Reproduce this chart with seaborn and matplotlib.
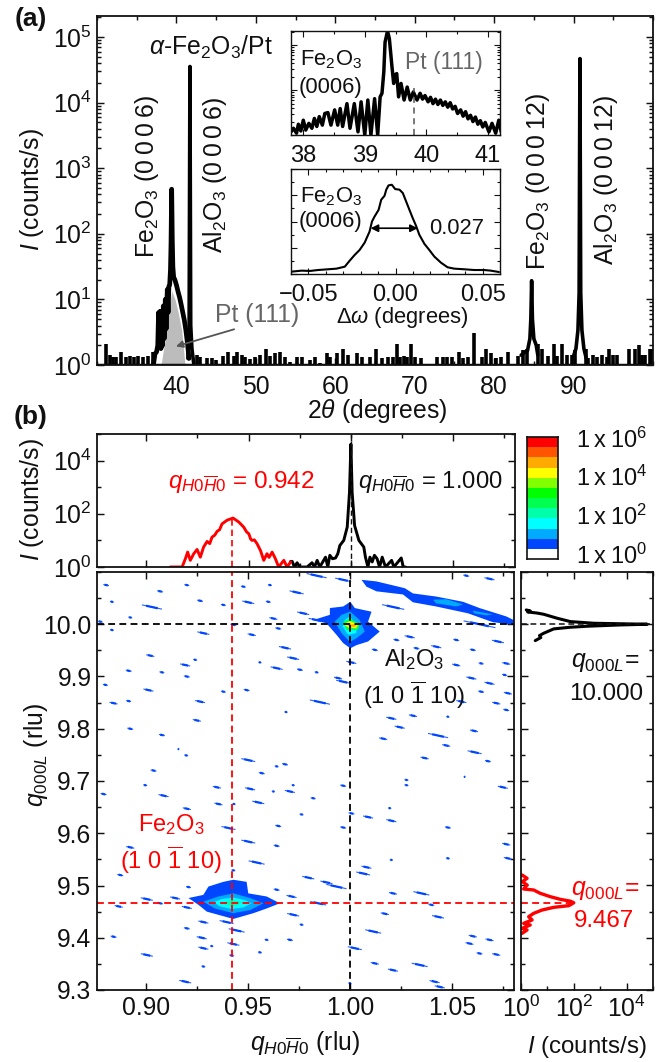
import numpy as np
import matplotlib
matplotlib.use("Agg")
import matplotlib.pyplot as plt
from matplotlib.colors import ListedColormap
from matplotlib.ticker import MultipleLocator, LogLocator, NullFormatter
import seaborn as sns

# (a) 2theta scan: noise spikes as (position, log10 height), peaks as traced curves
spike_x = [31.13, 31.64, 32.06, 32.39, 32.98, 33.65, 34.16, 34.66, 35.2, 35.83, 36.46, 37.09,
           42.55, 42.97, 43.81, 44.44, 44.98, 45.9, 46.53, 47.25, 47.58, 48.21, 48.63, 49.26,
           49.89, 50.52, 51.23, 51.78, 52.41, 53.04, 53.67, 54.3, 55.14, 55.76, 56.81, 57.44,
           58.07, 59.0, 59.33, 60.17, 60.93, 61.64, 62.69, 63.32, 64.37, 65.12,
           65.92, 66.59, 67.31, 67.73, 68.15, 68.69, 69.07, 69.53, 70.04, 70.79, 72.76, 73.6,
           74.02, 74.65, 75.57, 76.12, 76.75, 77.5, 78.43, 78.97, 79.56, 80.19, 80.86, 81.78,
           83.04, 83.67, 84.09, 85.56, 85.98, 86.82, 87.53, 87.95, 88.5, 89.21, 89.76, 90.18,
           91.52, 91.85, 92.48, 92.9, 93.53, 94.16, 94.5, 95.0, 95.5, 96.97, 97.73, 98.23,
           98.57, 98.99, 99.62, 99.91]
spike_log = [.32, .15, .12, .12, .2, .12, .13, .12, .14, .12, .14, .2,
             .15, .12, .1, .1, .07, .13, .2, .13, .2, .15, .12, .09,
             .12, .15, .25, .13, .18, .2, .12, .05, .12, .12, .07, .12,
             .03, .19, .12, .19, .25, .15, .18, .12, .12, .25,
             .1, .12, .12, .32, .12, .13, .12, .32, .12, .1, .12, .12,
             .12, .12, .2, .1, .12, .49, .12, .25, .19, .1, .12, .2,
             .14, .23, .25, .32, .24, .14, .32, .14, .32, .15, .15, .23,
             .25, .1, .15, .12, .15, .12, .24, .15, .15, .24, .24, .3,
             .15, .15, .24, .25]

fe_x = [37.1, 37.3, 37.5, 37.65, 37.75, 37.85, 37.95, 38.05, 38.15, 38.25, 38.35, 38.45, 38.6, 38.7, 38.85, 38.95,
        39.05, 39.15, 39.25, 39.32, 39.4, 39.48, 39.55, 39.65, 39.8, 40.0, 40.2, 40.4, 40.6, 40.8, 41.0, 41.2, 41.4, 41.58]
fe_log = [0, .17, .2, .3, .8, .3, .82, .25, .78, .3, .9, .4, 1.0, .55, 1.15, .8,
          1.2, 1.22, 1.45, 1.85, 2.68, 1.9, 1.5, 1.34, 1.3, 1.22, 1.12, 1.03, .92, .8, .68, .52, .32, .1]
al6_x = [41.45, 41.6, 41.7, 41.8, 41.95, 42.2]
al6_log = [.1, .6, 4.55, .6, .25, 0]
fe12_x = [83.4, 83.9, 84.2, 84.5, 84.62, 84.72, 84.82, 85.0, 85.3, 85.5]
fe12_log = [.15, .2, .22, .4, .7, 1.285, .7, .4, .3, .15]
al12_x = [89.9, 90.3, 90.55, 90.7, 90.8, 90.9, 91.05, 91.3, 91.6]
al12_log = [.1, .25, .53, 1.1, 4.67, 1.1, .53, .25, .1]
pt_x = [38.06, 38.56, 38.98, 39.4, 39.82, 40.24, 40.66, 41.08]
pt_log = [0, .38, .79, 1.13, 1.0, .79, .53, 0]
xticks_a = [40, 50, 60, 70, 80, 90]

# inset 1
ins1_x = [37.80, 37.84, 37.89, 37.92, 37.96, 38.0, 38.04, 38.09, 38.14, 38.18, 38.22, 38.26, 38.31, 38.35, 38.4,
          38.45, 38.51, 38.56, 38.6, 38.64, 38.71, 38.76, 38.83, 38.89, 38.94, 39.0, 39.05, 39.1, 39.16, 39.21,
          39.25, 39.28, 39.31, 39.33, 39.37, 39.4, 39.44, 39.47, 39.48, 39.52, 39.55, 39.59, 39.64, 39.69, 39.74,
          39.79, 39.85, 39.9, 39.94, 39.98, 40.03, 40.07, 40.11, 40.15, 40.19, 40.23, 40.27, 40.31, 40.35, 40.39, 40.43,
          40.47, 40.51, 40.56, 40.6, 40.64, 40.68, 40.72, 40.76, 40.8, 40.84, 40.88, 40.92, 40.96, 41.02, 41.07, 41.13,
          41.18, 41.22]
ins1_log = [.07, .15, .04, .24, .09, .33, .11, .26, .15, .37, .19, .41, .22, .48, .5,
            .22, .56, .22, .59, .19, .7, .15, .7, .07, .74, 0, .78, 0, .81, 0,
            .85, .93, 1.41, 2.07, 2.32, 2.15, 1.56, 1.15, 1.33, 1.37, .85, 1.15, .78, 1.07, .78,
            .96, .78, .93, .8, .88, .74, .84, .7, .8, .68, .78, .66, .74, .62, .72, .58,
            .64, .48, .56, .42, .52, .36, .44, .3, .4, .24, .32, .18, .28, .07, .26, .04,
            .33, .07]

# inset 2, rocking curve
rock_x = [-.060, -.0539, -.0491, -.0444, -.0387, -.0339, -.0291, -.0263, -.0234, -.0206, -.0177, -.0149, -.0135, -.012,
          -.0097, -.0082, -.0063, -.0053, -.004, -.0021, -.0002, .0023, .0042, .0061, .008, .0099, .0118, .0137, .0166,
          .0194, .0223, .0261, .0299, .0337, .0394, .0451, .0509, .0547, .0594]
rock_y = [.022, .032, .029, .038, .045, .051, .07, .127, .182, .229, .299, .404, .5, .548,
          .611, .707, .745, .803, .844, .85, .809, .803, .771, .691, .611, .532, .459, .373, .287,
          .229, .166, .108, .064, .051, .045, .038, .038, .032, .019]

# (b) top cut
red_x = [.9117, .9175, .9191, .9202, .9215, .9232, .9248, .9264, .9280, .9297, .9310, .9321, .9335, .9346, .9358, .9370, .9395, .9424,
         .9452, .9476, .9490, .9501, .9510, .9517, .9528, .9541, .9558, .9574, .9590, .9600, .9615, .9631, .9647, .9672, .9688, .9705]
red_log = [0, 0, .31, .56, .25, .5, .66, .37, .75, .96, .88, 1.12, 1.2, 1.34, 1.4, 1.62, 1.76, 1.84,
           1.69, 1.5, 1.32, 1.25, 1.05, 1.0, 1.02, .88, .62, .25, .5, .36, .56, .31, 0, .25, 0, .19]
blk_x = [.9705, .9713, .9724, .9737, .9750, .9786, .9810, .9822, .9835, .9848, .9876, .9887, .9897, .9910, .9925, .9936,
         .9946, .9965, .9982, .9993, 1.0, 1.0006, 1.0018, 1.0039, 1.0063, 1.0071, 1.0083, 1.0093, 1.0104, 1.0115, 1.0128,
         1.0140, 1.0153, 1.0169, 1.0199, 1.0210, 1.0246, 1.0256, 1.0267]
blk_log = [.21, .21, 0, .16, 0, 0, .16, 0, .25, 0, .37, 0, .44, .31, .34, .5,
           .81, 1.0, 1.5, 2.81, 4.62, 2.81, 1.56, 1.0, .75, .37, 0, .37, .19, .44, .31,
           0, .37, 0, .25, 0, .34, 0, 0]

# (b) side cut
side_blk_q = [10.0274, 10.0255, 10.0235, 10.0215, 10.0191, 10.0115, 10.0051, 10.0019, 10.0, 9.9987, 9.9962, 9.9943, 9.9911,
              9.9828, 9.9783, 9.9745, 9.9687]
side_blk_log = [.2, .35, .25, .6, .86, 1.37, 1.87, 2.76, 4.78, 3.77, 2.51, 1.87, 1.24,
                .86, .7, .75, .54]
side_red_q = [9.5201, 9.5137, 9.5073, 9.501, 9.4933, 9.4914, 9.485, 9.4786, 9.4735, 9.47, 9.467, 9.4614, 9.4582, 9.4531,
              9.4467, 9.4403, 9.434, 9.4276, 9.4244, 9.418, 9.4148, 9.4084]
side_red_log = [.04, .23, .05, .23, .1, .48, .73, 1.11, 1.49, 1.87, 2.0, 1.81, 1.24, .8,
                .48, .29, .42, .1, .35, .04, .23, .04]

# (b) map: short diffuse streaks, centre and width in rlu
streak_x = [.8804, .8832, .9068, .9199, .9476, .9606, .9737, .9835, .9965, 1.0568, 1.0682, .9028, .9264, .9378, .95, .9598,
            .8775, .8922, .8832, .928, .9427, .9517, .9623, .9647, .9769, .9835, .902, .9191, .924, .8914, .9077, .9199,
            .9557, .9639, .968, .972, .9753, .9835, .88, .9011, .884, .8914, .9264, .9378, .9492, .9248, .9685, .9851,
            .9965, .994, 1.0005, 1.012, 1.0226, 1.0291, 1.0421, 1.0519, 1.06, 1.0723, 1.0324, 1.0641, 1.0764, 1.0519,
            1.0756, 1.0593, 1.0682, 1.0641, 1.0772, 1.0544, 1.0715, 1.0764, 1.0201, 1.0307, 1.0478, 1.0242, 1.0606, 1.043,
            1.0161, 1.047, 1.0609, 1.0364, 1.0674, 1.056, 1.0275, 1.0275, 1.0747,
            .8922, .9077, .9158, .9196, .9036, .95, .9639, .968, .9566, .8995, .9346, .9509, .9623, .972, .9704, .8791,
            .9085, .9818, .9354, .9549, .943, .9965, .9761, 1.0006, 1.0087, 1.0201, 1.0193, .9965, .9647, .9403, .9199,
            .95, .9639, .8922, 1.0478, 1.0764, 1.0772, 1.0478, 1.0201, 1.0079, 1.0063, .9541, .9427, .8873, .9794, .9883,
            .9932, 1.0348, 1.0209, 1.0397, 1.0169, 1.043, .972, .9761, .9639, .9712, .9843, .9003, .9068, .9142, .9207,
            .8865, .9199, .928, .9394, .9443, .9199, .884, .9272, .9427, .9321, .928, .9557, .9704, .959, .9003, .9419,
            1.0022, 1.0112, 1.06, 1.0682, 1.0584, 1.0715, 1.0633, 1.034, 1.012, 1.0209, .928, .9191, 1.0413, 1.0438, .9998,
            1.021, 1.0633]
streak_y = [10.075, 10.043, 10.063, 10.075, 10.072, 10.075, 10.061, 10.093, 10.085, 10.093, 10.087, 10.033, 10.045, 10.037, 10.042, 10.043,
            10.005, 10.013, 9.989, 9.983, 9.999, 9.98, 10.011, 9.992, 10.021, 10.008, 9.94, 9.922, 9.932, 9.911, 9.908, 9.9,
            9.927, 9.916, 9.955, 9.935, 9.913, 9.908, 9.884, 9.874, 9.849, 9.853, 9.852, 9.871, 9.874, 9.816, 9.832, 9.851,
            9.89, 9.897, 9.927, 9.951, 9.97, 9.976, 9.957, 9.97, 9.951, 9.967, 9.954, 9.925, 9.925, 9.922,
            9.903, 9.897, 9.887, 9.871, 9.868, 9.852, 9.849, 9.836, 9.82, 9.825, 9.823, 9.803, 9.796, 9.787,
            9.781, 9.768, 9.755, 9.744, 9.738, 9.708, 9.702, 9.692, 9.688,
            9.8, 9.788, 9.761, 9.749, 9.72, 9.74, 9.728, 9.732, 9.715, 9.692, 9.688, 9.685, 9.68, 9.692, 9.68, 9.675,
            9.672, 9.667, 9.656, 9.659, 9.656, 9.691, 9.636, 9.638, 9.631, 9.624, 9.648, 9.611, 9.614, 9.61, 9.647,
            9.584, 9.576, 9.573, 9.611, 9.579, 9.552, 9.552, 9.549, 9.535, 9.523, 9.544, 9.529, 9.52, 9.515, 9.506,
            9.498, 9.485, 9.485, 9.463, 9.446, 9.44, 9.444, 9.425, 9.492, 9.479, 9.466, 9.474, 9.466, 9.476, 9.497,
            9.46, 9.458, 9.43, 9.43, 9.414, 9.418, 9.402, 9.4, 9.388, 9.384, 9.38, 9.372, 9.396, 9.396, 9.367, 9.366,
            9.38, 9.412, 9.403, 9.396, 9.389, 9.368, 9.37, 9.348, 9.351, 9.338, 9.345, 9.316, 9.316, 9.306, 9.313,
            10.033, 10.0]
streak_w = [.0023, .0016, .0024, .002, .002, .0016, .0057, .0082, .0065, .0024, .0041, .0082, .0024, .002, .0049, .002,
            .002, .0016, .0016, .0049, .0024, .0033, .0033, .0024, .0049, .0065, .0033, .0041, .0016, .0024, .002, .0024,
            .0013, .0049, .0049, .0049, .0024, .0016, .002, .0041, .0033, .002, .0041, .002, .0024, .0033, .0013, .0082,
            .0057, .0033, .0041, .0024, .0024, .0041, .0041, .0024, .0024, .0049, .0024, .002, .0033, .0033,
            .002, .0041, .0041, .0024, .0033, .0041, .0033, .0024, .0041, .0033, .0013, .0041, .0033, .0082,
            .0033, .0033, .0057, .0033, .0024, .0008, .0016, .0016, .0041,
            .0024, .0024, .0008, .0016, .0024, .0057, .0016, .0024, .0024, .0016, .0033, .0041, .0013, .0013, .0041, .0024,
            .0041, .002, .0033, .0049, .0013, .0024, .0016, .0024, .0041, .0041, .0013, .0024, .0024, .0057, .0033,
            .0057, .0024, .0033, .0024, .0033, .0033, .0016, .0013, .0041, .0057, .0065, .0016, .0024, .0049, .0049,
            .0082, .0065, .0033, .0024, .0033, .0049, .0049, .0016, .0024, .0041, .0065, .0049, .0024, .0041, .002,
            .0033, .0041, .0041, .0057, .0065, .0024, .0024, .0041, .0049, .0013, .0041, .0016, .0024, .0016, .0049, .002,
            .0057, .0065, .0033, .0033, .0033, .0033, .0024, .0065, .0033, .0041, .0016, .0049, .0041, .0041, .0013,
            .009, .013]

# contour outlines around the peaks, outer to inner, colour index into map_colors
al_x = [[1.0, 1.0022, 1.0104, 1.0087, 1.0144, 1.0087, 1.003, 1.0, .9965, .9932, .9883, .9818, .99, .99, .9965],
        [1.0, 1.0046, 1.0071, 1.003, .9998, .9957, .9924, .9957],
        [.9998, 1.003, 1.003, .9989, .9962, .9973],
        [.9965, 1.0, 1.0046, 1.0038, .9981],
        [.9965, .9998, 1.0038, 1.003, .9989],
        [.9985, 1.0022, 1.003, .9998]]
al_y = [[10.043, 10.031, 10.024, 10.005, 9.986, 9.967, 9.96, 9.954, 9.964, 9.98, 10.002, 10.008, 10.018, 10.031, 10.034],
        [10.024, 10.008, 9.986, 9.973, 9.966, 9.983, 10.005, 10.018],
        [10.015, 9.999, 9.983, 9.98, 9.996, 10.008],
        [10.005, 10.011, 10.0, 9.989, 9.989],
        [10.0, 10.006, 10.0, 9.992, 9.994],
        [9.999, 10.0, 9.996, 9.994]]
al_levels = [1, 2, 3, 5, 8, 9]
fe_peak_x = [[.9427, .9492, .95, .959, .9655, .959, .9525, .9427, .9297, .9256, .9207, .928, .9305, .9378],
             [.9427, .9509, .9574, .9509, .9427, .9337, .928, .9354],
             [.9427, .9484, .9517, .9476, .9419, .9362, .9329, .937],
             [.9427, .9468, .9443, .9403, .9378]]
fe_peak_y = [[9.511, 9.507, 9.485, 9.479, 9.466, 9.456, 9.447, 9.436, 9.45, 9.463, 9.476, 9.482, 9.498, 9.507],
             [9.485, 9.476, 9.466, 9.453, 9.447, 9.456, 9.469, 9.479],
             [9.477, 9.472, 9.466, 9.458, 9.455, 9.46, 9.468, 9.474],
             [9.472, 9.468, 9.462, 9.462, 9.468]]
fe_levels = [1, 2, 3, 4]
band_x = [[1.0055, 1.0128, 1.0267, 1.0307, 1.0421, 1.0552, 1.0633, 1.0764, 1.0801, 1.0801, 1.0698, 1.0576, 1.0421, 1.0307, 1.0258, 1.0128, 1.0079],
          [1.0405, 1.047, 1.0552, 1.0519, 1.0421],
          [1.06, 1.0698, 1.0666, 1.0607]]
band_y = [[10.085, 10.082, 10.069, 10.059, 10.053, 10.043, 10.031, 10.015, 10.008, 9.999, 10.004, 10.021, 10.034, 10.042, 10.057, 10.063, 10.072],
          [10.047, 10.048, 10.038, 10.034, 10.04],
          [10.026, 10.019, 10.017, 10.021]]
band_levels = [1, 2, 2]

map_colors = ["#ffffff", "#0046ff", "#00aaff", "#00ffff", "#00ffaa", "#00ff50",
              "#00ff00", "#82ff00", "#ffff00", "#ffaa00", "#ff5500", "#ff0000"]
cbar_levels = [[11], [10], [9], [8], [7], [6], [5], [4], [3], [2], [1], [0]]
cbar_labels = ["1\u2009x\u200910$^{6}$", "1\u2009x\u200910$^{4}$", "1\u2009x\u200910$^{2}$", "1\u2009x\u200910$^{0}$"]

sns.set_theme(style="ticks")
plt.rcParams["font.family"] = ["Liberation Sans", "DejaVu Sans"]
plt.rcParams["mathtext.fontset"] = "custom"
plt.rcParams["mathtext.rm"] = "Liberation Sans"
plt.rcParams["mathtext.it"] = "Liberation Sans:italic"
plt.rcParams["mathtext.bf"] = "Liberation Sans:bold"
plt.rcParams["mathtext.default"] = "regular"

W, H = 663, 1062
FS = 17.8
dash = (0, (3.8, 2.4))
fig = plt.figure(figsize=(W / 100, H / 100), dpi=100, facecolor="white")


def box(x0, y0, x1, y1, lw=1.3):
    ax = fig.add_axes([x0 / W, 1 - y1 / H, (x1 - x0) / W, (y1 - y0) / H])
    for s in ax.spines.values():
        s.set_linewidth(lw)
        s.set_color("#111111")
        s.set_zorder(10)
    ax.tick_params(which="both", direction="in", top=True, right=True, width=lw * .8, colors="#111111",
                   labelsize=FS, pad=4)
    ax.tick_params(which="major", length=5)
    ax.tick_params(which="minor", length=2.8)
    return ax


def label(px, py, s, **kw):
    kw.setdefault("fontsize", FS)
    kw.setdefault("color", "#111111")
    fig.text(px / W, 1 - py / H, s, ha="center", va="center", **kw)


def curve(ax, x, y, color="#000000", lw=2.0):
    sns.lineplot(x=x, y=y, ax=ax, color=color, lw=lw, estimator=None, sort=False, errorbar=None, legend=False)


def pow10(v):
    return 10 ** np.array(v, dtype=float)


def decade_ticks(axis):
    axis.set_major_locator(LogLocator(base=100, numticks=6))
    axis.set_minor_locator(LogLocator(base=10, subs=(1.0,), numticks=8))
    axis.set_minor_formatter(NullFormatter())


# panel (a)
ax_a = box(97, 16, 653, 365)
ax_a.set_yscale("log")
ax_a.fill_between(pt_x, 1, pow10(pt_log), color="#bcbcbc", lw=0)
ax_a.vlines(spike_x, 1, pow10(spike_log), color="black", lw=2.6)
ax_a.axhline(1, color="black", lw=2.5)
curve(ax_a, fe_x, pow10(fe_log), lw=3.4)
curve(ax_a, al6_x, pow10(al6_log), lw=2.6)
curve(ax_a, fe12_x, pow10(fe12_log), lw=2.6)
curve(ax_a, al12_x, pow10(al12_log), lw=2.6)
ax_a.set_xlim(30, 100)
ax_a.set_ylim(1, 10 ** 5.32)
ax_a.set_xticks(xticks_a)
ax_a.tick_params(axis="x", which="major", pad=7)
ax_a.xaxis.set_minor_locator(MultipleLocator(5))
ax_a.yaxis.set_major_locator(LogLocator(base=10, numticks=8))
ax_a.yaxis.set_minor_locator(LogLocator(base=10, subs=np.arange(2, 10) * 1.0, numticks=8))
ax_a.yaxis.set_minor_formatter(NullFormatter())
ax_a.set_xlabel("")
ax_a.set_ylabel("")
ax_a.annotate("", xy=(39.6, 1.87), xytext=(47.6, 3.6),
              arrowprops=dict(arrowstyle="-|>", color="#555555", lw=1.3, mutation_scale=10))

label(31, 19, "(a)", fontweight="bold", fontsize=19)
label(31, 417, "(b)", fontweight="bold", fontsize=19)
label(211, 47, r"$\mathit{\alpha}$-Fe$_{2}$O$_{3}$/Pt")
label(147, 176, "Fe$_{2}$O$_{3}$ (0\u20090\u20090\u20096)", rotation=90)
label(215, 175, "Al$_{2}$O$_{3}$ (0\u20090\u20090\u20096)", rotation=90)
label(538, 182, "Fe$_{2}$O$_{3}$ (0\u20090\u20090\u200912)", rotation=90)
label(606, 180, "Al$_{2}$O$_{3}$ (0\u20090\u20090\u200912)", rotation=90)
label(257, 315, "Pt (111)", color="#666666")
label(32, 190, "$\\mathit{I}$ (counts/s)", rotation=90)
label(377, 411, r"2$\mathit{\theta}$ (degrees)")

# inset 1
ins1 = box(291, 31, 500, 135, lw=1.0)
ins1.set_yscale("log")
curve(ins1, ins1_x, pow10(ins1_log), lw=2.5)
ins1.plot([39.8, 39.8], [1, 10 ** 1.05], color="#555555", lw=1.1, ls=(0, (4, 3)))
ins1.set_xlim(37.8, 41.2)
ins1.set_ylim(1, 10 ** 2.32)
ins1.set_xticks([38, 39, 40, 41])
ins1.xaxis.set_minor_locator(MultipleLocator(.5))
ins1.yaxis.set_major_locator(LogLocator(base=10, numticks=5))
ins1.yaxis.set_minor_locator(LogLocator(base=10, subs=np.arange(2, 10) * 1.0, numticks=5))
ins1.yaxis.set_major_formatter(NullFormatter())
ins1.yaxis.set_minor_formatter(NullFormatter())
ins1.tick_params(which="minor", length=2)
ins1.tick_params(which="major", length=4, labelsize=17, pad=7)
label(331, 60, "Fe$_{2}$O$_{3}$", fontsize=15.8)
label(331, 87, "(0006)", fontsize=15.8)
label(444, 63, "Pt (111)", color="#666666", fontsize=16.5)

# inset 2
ins2 = box(291, 169, 500, 274, lw=1.0)
curve(ins2, rock_x, rock_y, lw=1.5)
ins2.set_xlim(-.06, .06)
ins2.set_ylim(0, 1)
ins2.set_xticks([-.05, 0, .05])
ins2.set_xticklabels(["\u22120.05", "0.00", "0.05"])
ins2.xaxis.set_minor_locator(MultipleLocator(.01))
ins2.yaxis.set_major_locator(MultipleLocator(.25))
ins2.yaxis.set_minor_locator(MultipleLocator(.125))
ins2.yaxis.set_major_formatter(NullFormatter())
ins2.tick_params(which="minor", length=2)
ins2.tick_params(which="major", length=4, labelsize=17, pad=7)
ins2.annotate("", xy=(-.0143, .436), xytext=(.0128, .436),
              arrowprops=dict(arrowstyle="<|-|>", color="black", lw=1.2, mutation_scale=11, shrinkA=0, shrinkB=0))
label(331, 197, "Fe$_{2}$O$_{3}$", fontsize=15.8)
label(331, 222, "(0006)", fontsize=15.8)
label(457, 228, "0.027", fontsize=15.8)
label(402, 318, r"$\Delta\mathit{\omega}$ (degrees)", fontsize=15.8)

# panel (b) top cut
ax_top = box(97, 434, 515, 567)
ax_top.set_yscale("log")
curve(ax_top, blk_x, pow10(blk_log), lw=2.1)
curve(ax_top, red_x, pow10(red_log), color="#ff0000", lw=2.1)
ax_top.plot([.942, .942], [1, 10 ** 1.8], color="#ff0000", lw=1.2, ls=dash)
ax_top.plot([1, 1], [1, 1e5], color="#111111", lw=1.0, ls=dash)
ax_top.set_xlim(.8759, 1.0802)
ax_top.set_ylim(1, 1e5)
ax_top.xaxis.set_major_locator(MultipleLocator(.05))
ax_top.xaxis.set_minor_locator(MultipleLocator(.025))
ax_top.xaxis.set_major_formatter(NullFormatter())
decade_ticks(ax_top.yaxis)
label(241, 482, r"$\mathit{q}_{\mathit{H0\overline{H}0}}$ = 0.942", color="#ff0000", fontsize=17.5)
label(430, 482, r"$\mathit{q}_{\mathit{H0\overline{H}0}}$ = 1.000", fontsize=17.2)
label(32, 500, "$\\mathit{I}$ (counts/s)", rotation=90)

# colour scale
ax_cb = box(527, 437, 558, 559, lw=1.2)
sns.heatmap(cbar_levels, ax=ax_cb, cmap=ListedColormap(map_colors), vmin=-.5, vmax=11.5, cbar=False,
            xticklabels=False, yticklabels=False)
ax_cb.tick_params(which="both", left=False, right=False, top=False, bottom=False)
for s in ax_cb.spines.values():
    s.set_visible(True)
    s.set_linewidth(1.2)
for py, txt in zip([440, 478, 517, 556], cbar_labels):
    label(612, py, txt, fontsize=17)

# panel (b) map, each streak has a thin tail and a thicker middle
ax_map = box(97, 572, 514, 990)
for x, y, w in zip(streak_x, streak_y, streak_w):
    ax_map.plot([x - w * .6, x + w * .6], [y + w * .5, y - w * .5], color=map_colors[1], lw=.8,
                solid_capstyle="butt", alpha=.85)
    ax_map.plot([x - w * .35, x + w * .35], [y + w * .3, y - w * .3], color=map_colors[1], lw=1.6,
                solid_capstyle="butt")
for xs, ys, levels in [(band_x, band_y, band_levels), (al_x, al_y, al_levels), (fe_peak_x, fe_peak_y, fe_levels)]:
    for px, py, lv in zip(xs, ys, levels):
        ax_map.fill(px, py, color=map_colors[lv], lw=0)
ax_map.axvline(1.0, color="black", lw=1.3, ls=dash)
ax_map.axhline(10.0, color="black", lw=1.3, ls=dash)
ax_map.axvline(.942, color="#ff0000", lw=1.3, ls=dash)
ax_map.axhline(9.467, color="#ff0000", lw=1.3, ls=dash)
ax_map.set_xlim(.8759, 1.0802)
ax_map.set_ylim(9.3, 10.1)
ax_map.set_xticks([.90, .95, 1.00, 1.05])
ax_map.set_xticklabels(["0.90", "0.95", "1.00", "1.05"])
ax_map.xaxis.set_minor_locator(MultipleLocator(.025))
ax_map.set_yticks([9.3, 9.4, 9.5, 9.6, 9.7, 9.8, 9.9, 10.0])
ax_map.set_yticklabels(["9.3", "9.4", "9.5", "9.6", "9.7", "9.8", "9.9", "10.0"])
ax_map.yaxis.set_minor_locator(MultipleLocator(.05))
label(414, 660, "Al$_{2}$O$_{3}$", fontsize=17)
label(414, 695, r"(1 0 $\overline{1}$ 10)", fontsize=17)
label(171, 825, "Fe$_{2}$O$_{3}$", color="#ff0000", fontsize=17)
label(171, 860, r"(1 0 $\overline{1}$ 10)", color="#ff0000", fontsize=17)
label(36, 755, r"$\mathit{q}_{\mathit{000L}}$ (rlu)", rotation=90)
label(305, 1043, r"$\mathit{q}_{\mathit{H0\overline{H}0}}$ (rlu)")

# panel (b) side cut
ax_side = box(521, 572, 653, 990)
ax_side.set_xscale("log")
curve(ax_side, pow10(side_blk_log), side_blk_q, lw=2.2)
curve(ax_side, pow10(side_red_log), side_red_q, color="#ff0000", lw=2.4)
ax_side.plot([1, 1e5], [10.0, 10.0], color="#111111", lw=1.1, ls=dash)
ax_side.plot([1, 100], [9.467, 9.467], color="#ff0000", lw=1.3, ls=dash)
ax_side.set_xlim(1, 1e5)
ax_side.set_ylim(9.3, 10.1)
decade_ticks(ax_side.xaxis)
ax_side.yaxis.set_major_locator(MultipleLocator(.1))
ax_side.yaxis.set_minor_locator(MultipleLocator(.05))
ax_side.yaxis.set_major_formatter(NullFormatter())
label(605, 662, r"$\mathit{q}_{\mathit{000L}}$=")
label(606, 694, "10.000", fontsize=17.4)
label(605, 890, r"$\mathit{q}_{\mathit{000L}}$=", color="#ff0000")
label(604, 921, "9.467", color="#ff0000", fontsize=17.4)
label(587, 1047, "$\\mathit{I}$ (counts/s)", fontsize=17.4)

fig.savefig("out.png", dpi=100)
